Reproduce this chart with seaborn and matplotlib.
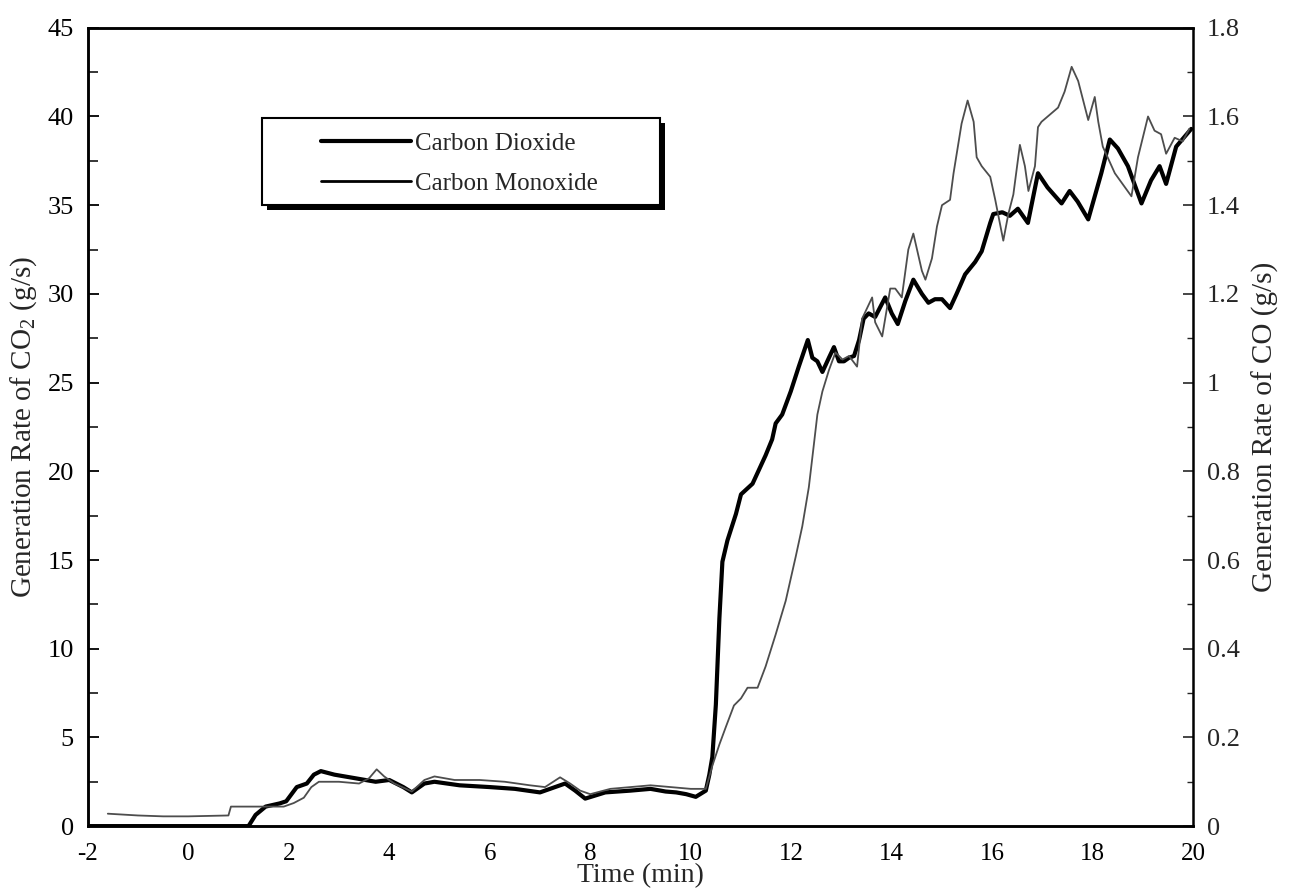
import matplotlib
matplotlib.use("Agg")
import matplotlib.pyplot as plt
from matplotlib.patches import Rectangle
from matplotlib.ticker import MultipleLocator, FuncFormatter
import seaborn as sns
import pandas as pd

# Carbon dioxide generation rate (g/s) versus time (min)
co2_time = [-2.0, 1.2, 1.34, 1.54, 1.82, 1.95, 2.16, 2.36, 2.5, 2.64, 2.91, 3.32,
            3.73, 4.0, 4.28, 4.45, 4.7, 4.9, 5.4, 6.0, 6.5, 7.0, 7.3, 7.5, 7.7,
            7.9, 8.3, 8.8, 9.2, 9.5, 9.71, 9.91, 10.1, 10.3, 10.37, 10.43, 10.5,
            10.57, 10.63, 10.73, 10.9, 11.0, 11.23, 11.36, 11.49, 11.62, 11.69,
            11.82, 11.99, 12.15, 12.33, 12.42, 12.52, 12.62, 12.75, 12.85, 12.95,
            13.05, 13.15, 13.25, 13.35, 13.44, 13.54, 13.67, 13.87, 14.0, 14.12,
            14.27, 14.43, 14.6, 14.73, 14.86, 15.0, 15.16, 15.29, 15.46, 15.66,
            15.79, 15.96, 16.02, 16.2, 16.35, 16.51, 16.71, 16.91, 17.1, 17.38,
            17.54, 17.7, 17.91, 18.17, 18.34, 18.5, 18.7, 18.97, 19.16, 19.33,
            19.46, 19.66, 19.96]
co2_rate = [0.0, 0.0, 0.63, 1.1, 1.28, 1.4, 2.2, 2.4, 2.9, 3.1, 2.9, 2.7,
            2.5, 2.6, 2.2, 1.9, 2.4, 2.5, 2.3, 2.2, 2.1, 1.9, 2.2, 2.4, 2.0,
            1.55, 1.9, 2.0, 2.1, 1.95, 1.9, 1.8, 1.65, 2.0, 2.9, 3.9, 6.85,
            11.7, 14.9, 16.1, 17.6, 18.7, 19.3, 20.1, 20.9, 21.8, 22.7,
            23.2, 24.5, 25.9, 27.4, 26.4, 26.2, 25.6, 26.4, 27.0, 26.2,
            26.2, 26.4, 26.5, 27.4, 28.6, 28.9, 28.7, 29.8, 28.9, 28.3,
            29.6, 30.8, 30.0, 29.5, 29.7, 29.7, 29.2, 30.0, 31.1, 31.8,
            32.4, 34.0, 34.5, 34.6, 34.4, 34.8, 34.0, 36.8, 36.0, 35.1,
            35.8, 35.2, 34.2, 36.8, 38.7, 38.2, 37.2, 35.1, 36.4, 37.2,
            36.2, 38.3, 39.3]

# Carbon monoxide generation rate (g/s) versus time (min)
co_time = [-1.6, -1.0, -0.5, 0.0, 0.8, 0.85, 1.7, 1.9, 2.1, 2.3, 2.45, 2.6,
           3.0, 3.4, 3.6, 3.75, 3.9, 4.1, 4.45, 4.7, 4.9, 5.3, 5.8, 6.3, 6.8,
           7.1, 7.4, 7.6, 7.8, 8.0, 8.4, 8.8, 9.2, 9.6, 10.0, 10.3, 10.43,
           10.57, 10.7, 10.86, 11.0, 11.13, 11.33, 11.49, 11.69, 11.89, 12.09,
           12.22, 12.35, 12.45, 12.52, 12.62, 12.75, 12.88, 13.02, 13.15, 13.31,
           13.41, 13.61, 13.67, 13.81, 13.97, 14.07, 14.2, 14.33, 14.43, 14.6,
           14.67, 14.8, 14.9, 15.0, 15.16, 15.23, 15.39, 15.51, 15.63, 15.69,
           15.79, 15.96, 16.06, 16.22, 16.32, 16.42, 16.55, 16.65, 16.72, 16.85,
           16.91, 16.98, 17.31, 17.44, 17.58, 17.71, 17.81, 17.91, 18.04, 18.11,
           18.2, 18.44, 18.77, 18.9, 19.1, 19.23, 19.36, 19.46, 19.63, 19.79,
           19.92]
co_rate = [0.028, 0.024, 0.022, 0.022, 0.024, 0.044, 0.044, 0.044, 0.052, 0.064,
           0.088, 0.100, 0.100, 0.096, 0.108, 0.128, 0.112, 0.096, 0.078, 0.104,
           0.112, 0.104, 0.104, 0.100, 0.092, 0.088, 0.110, 0.096, 0.080, 0.072,
           0.084, 0.088, 0.092, 0.088, 0.084, 0.084, 0.136, 0.184, 0.224, 0.272,
           0.288, 0.312, 0.312, 0.360, 0.432, 0.508, 0.608, 0.676, 0.764, 0.860,
           0.928, 0.980, 1.028, 1.068, 1.052, 1.060, 1.036, 1.144, 1.192, 1.136,
           1.104, 1.212, 1.212, 1.192, 1.300, 1.336, 1.252, 1.232, 1.280, 1.352,
           1.400, 1.412, 1.472, 1.584, 1.636, 1.588, 1.508, 1.488, 1.464, 1.412,
           1.320, 1.380, 1.424, 1.536, 1.488, 1.432, 1.488, 1.576, 1.588, 1.620,
           1.656, 1.712, 1.680, 1.636, 1.592, 1.644, 1.588, 1.532, 1.472, 1.420,
           1.508, 1.600, 1.568, 1.560, 1.516, 1.552, 1.544, 1.572]

x_ticks = list(range(-2, 21, 2))
co2_ticks = list(range(0, 46, 5))
co_ticks = [0, 0.2, 0.4, 0.6, 0.8, 1.0, 1.2, 1.4, 1.6, 1.8]

co2_df = pd.DataFrame({"Time (min)": co2_time, "rate": co2_rate})
co_df = pd.DataFrame({"Time (min)": co_time, "rate": co_rate})

sns.set_theme(style="white")
plt.rcParams["font.family"] = ["Liberation Serif", "DejaVu Serif"]
plt.rcParams["mathtext.fontset"] = "custom"
plt.rcParams["mathtext.rm"] = "Liberation Serif"
plt.rcParams["mathtext.it"] = "Liberation Serif:italic"
plt.rcParams["axes.unicode_minus"] = False

fig = plt.figure(figsize=(12.9, 8.96), dpi=100)
ax = fig.add_axes([0.068, 0.078, 0.857, 0.891])
ax2 = ax.twinx()

sns.lineplot(data=co2_df, x="Time (min)", y="rate", ax=ax, color="black",
             linewidth=3.0, label="Carbon Dioxide", legend=False)
sns.lineplot(data=co_df, x="Time (min)", y="rate", ax=ax2, color="0.3",
             linewidth=1.3, label="Carbon Monoxide", legend=False)

ax.set_xlim(-2, 20)
ax.set_ylim(0, 45)
ax2.set_ylim(0, 1.8)
ax.set_xticks(x_ticks)
ax.set_yticks(co2_ticks)
ax2.set_yticks(co_ticks)
ax.xaxis.set_minor_locator(MultipleLocator(1))
ax.yaxis.set_minor_locator(MultipleLocator(2.5))
ax2.yaxis.set_minor_locator(MultipleLocator(0.1))
ax2.yaxis.set_major_formatter(FuncFormatter(lambda v, p: f"{v:g}"))

ax.set_xlabel("Time (min)", fontsize=20, labelpad=-1)
ax.set_ylabel("Generation Rate of CO$_2$ (g/s)", fontsize=21, labelpad=6)
ax2.set_ylabel("Generation Rate of CO (g/s)", fontsize=21, labelpad=8)

ax.tick_params(axis="both", which="both", direction="in", colors="black",
               labelsize=19)
ax.tick_params(axis="x", which="major", length=8, width=1.3, pad=12,
               labelsize=18)
ax.tick_params(axis="x", which="minor", length=6, width=1.1)
ax.tick_params(axis="y", which="major", length=8, width=1.3, pad=10)
ax.tick_params(axis="y", which="minor", length=7, width=1.1)
ax2.tick_params(axis="y", which="both", direction="in", labelsize=19, pad=10)
ax2.tick_params(axis="y", which="major", length=7, width=1.2)
ax2.tick_params(axis="y", which="minor", length=4, width=1.0)

for a in (ax, ax2):
    for side in ("left", "bottom", "top"):
        a.spines[side].set_color("black")
        a.spines[side].set_linewidth(1.8)
ax2.spines["right"].set_color("black")
ax2.spines["right"].set_linewidth(1.8)
ax2.spines["right"].set_linestyle((0, (1, 1)))
ax.spines["right"].set_visible(False)

# Legend frame with a drop shadow
box = (0.2031, 0.7712, 0.3085, 0.0971)
fig.patches.append(Rectangle((box[0] + 0.004, box[1] - 0.006), box[2], box[3],
                             transform=fig.transFigure, facecolor="black",
                             edgecolor="none", zorder=5))
fig.patches.append(Rectangle((box[0], box[1]), box[2], box[3],
                             transform=fig.transFigure, facecolor="white",
                             edgecolor="black", linewidth=1.5, zorder=6))

handles = ax.get_lines()[:1] + ax2.get_lines()[:1]
leg = fig.legend(handles, ["Carbon Dioxide", "Carbon Monoxide"],
                 loc="upper left", bbox_to_anchor=(0.2395, 0.8665),
                 frameon=False, fontsize=18, handlelength=3.6,
                 handletextpad=0.15, borderpad=0, labelspacing=0.7)
leg.set_zorder(7)
leg.get_lines()[1].set_color("black")
leg.get_lines()[1].set_linewidth(2.0)

fig.savefig("out.png", dpi=100, facecolor="white")
